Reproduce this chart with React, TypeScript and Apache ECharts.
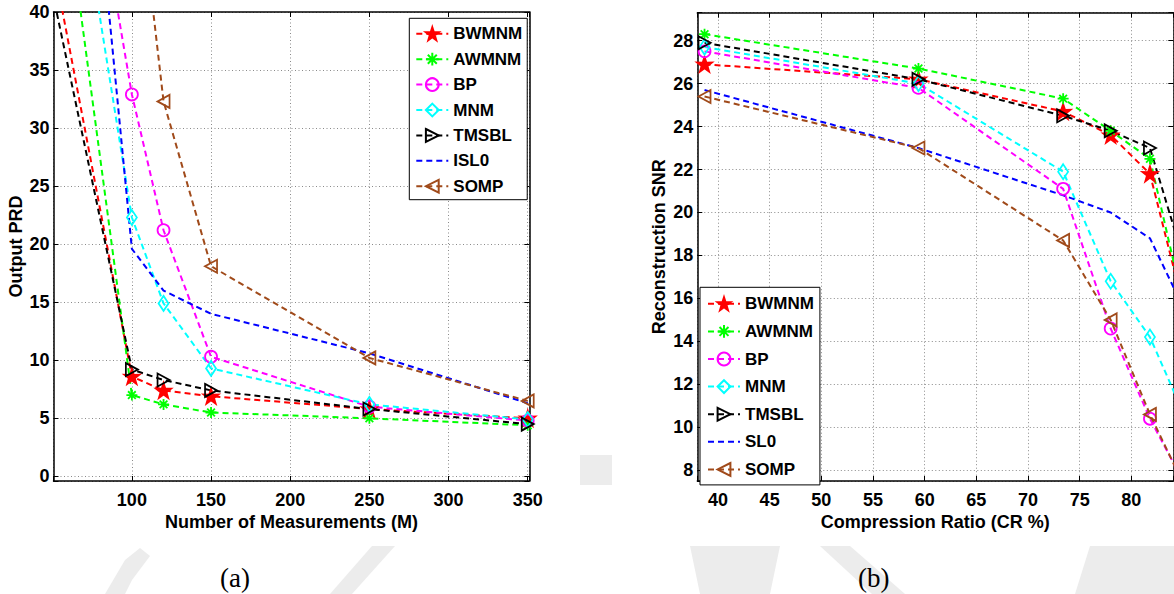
import { useEffect, useRef } from "react";
import * as echarts from "echarts";

// ---- Panel (a): output PRD against number of measurements ----
const measurements = [50, 100, 120, 150, 250, 350];
const prdBWMNM = [44.5, 8.6, 7.4, 6.9, 5.8, 5.0];
const prdAWMNM = [58, 7.0, 6.2, 5.5, 5.0, 4.4];
const prdBP = [73, 32.9, 21.2, 10.3, 6.0, 4.8];
const prdMNM = [65, 22.3, 14.9, 9.3, 6.2, 4.9];
const prdTMSBL = [41.6, 9.2, 8.3, 7.4, 5.8, 4.5];
const prdISL0 = [90, 19.6, 16.0, 14.0, 10.6, 6.3];
const prdSOMP = [null, 56, 32.3, 18.1, 10.2, 6.5];

// ---- Panel (b): reconstruction SNR against compression ratio ----
const ratios = [38.7, 59.4, 73.4, 78.0, 81.8, 86];
const snrBWMNM = [26.9, 26.2, 24.7, 23.6, 21.8, 13.8];
const snrAWMNM = [28.3, 26.7, 25.3, 23.8, 22.5, 13.7];
const snrBP = [27.5, 25.8, 21.1, 14.6, 10.4, 6.6];
const snrMNM = [27.7, 26.0, 21.9, 16.8, 14.2, 9.6];
const snrTMSBL = [27.9, 26.2, 24.5, 23.8, 23.0, 16.3];
const snrSL0 = [25.7, 23.0, 20.8, 20.0, 18.8, 14.6];
const snrSOMP = [25.4, 23.0, 18.7, 15.0, 10.6, 6.4];

const legendA = ["BWMNM", "AWMNM", "BP", "MNM", "TMSBL", "ISL0", "SOMP"];
const legendB = ["BWMNM", "AWMNM", "BP", "MNM", "TMSBL", "SL0", "SOMP"];

const FONT = "'Liberation Sans', Arial, Helvetica, sans-serif";
const SERIF = "'Liberation Serif', 'Times New Roman', serif";

const STAR =
  "path://M50,0 L61.8,35.1 L97.6,34.5 L68.8,55.9 L79.4,90.5 L50,69.5 L20.6,90.5 L31.2,55.9 L2.4,34.5 L38.2,35.1 Z";
const ASTERISK = "path://M5,0 L5,10 M0,5 L10,5 M1.5,1.5 L8.5,8.5 M1.5,8.5 L8.5,1.5";
const TRI_RIGHT = "path://M0,0 L10,5 L0,10 Z";
const TRI_LEFT = "path://M10,0 L0,5 L10,10 Z";

type MarkStyle = {
  color: string;
  symbol: string;
  size: number | number[];
  filled: boolean;
};

const MARKS: Record<string, MarkStyle> = {
  BWMNM: { color: "#ff0000", symbol: STAR, size: 15, filled: true },
  AWMNM: { color: "#00ff00", symbol: ASTERISK, size: 11, filled: false },
  BP: { color: "#ff00ff", symbol: "circle", size: 12, filled: false },
  MNM: { color: "#00ffff", symbol: "diamond", size: [10, 15], filled: false },
  TMSBL: { color: "#000000", symbol: TRI_RIGHT, size: [12, 13], filled: false },
  ISL0: { color: "#0000ff", symbol: "none", size: 0, filled: false },
  SL0: { color: "#0000ff", symbol: "none", size: 0, filled: false },
  SOMP: { color: "#a04a1a", symbol: TRI_LEFT, size: [12, 13], filled: false },
};

function lineSeries(name: string, xs: number[], ys: (number | null)[], panel: number) {
  const m = MARKS[name];
  const noMarker = m.symbol === "none";
  const data: number[][] = [];
  xs.forEach((x, i) => {
    const y = ys[i];
    if (y !== null) data.push([x, y]);
  });
  return {
    type: "line",
    name,
    xAxisIndex: panel * 2,
    yAxisIndex: panel * 2,
    data,
    symbol: m.symbol,
    symbolSize: m.size,
    showSymbol: !noMarker,
    clip: true,
    silent: true,
    emphasis: { disabled: true },
    lineStyle: { color: m.color, width: 2, type: [6, 4] },
    itemStyle: {
      color: m.filled ? m.color : "rgba(0,0,0,0)",
      borderColor: noMarker ? "rgba(0,0,0,0)" : m.color,
      borderWidth: noMarker ? 0 : 1.8,
    },
  };
}

const tickFont = { fontFamily: FONT, fontWeight: "bold" as const, fontSize: 18, color: "#000" };

function axisPair(
  dim: "x" | "y",
  grid: number,
  min: number,
  max: number,
  splitNumber: number,
  step: number,
  name: string,
  nameGap: number
) {
  const frame = { show: true, onZero: false, lineStyle: { color: "#000", width: 1.5 } };
  const tick = { show: true, inside: true, length: 5, lineStyle: { color: "#000", width: 1 } };
  const main = {
    type: "value",
    gridIndex: grid,
    position: dim === "x" ? "bottom" : "left",
    min,
    max,
    splitNumber,
    axisLine: frame,
    axisTick: tick,
    axisLabel: {
      ...tickFont,
      margin: dim === "x" ? 10 : 4,
      formatter: (v: number) => (Math.abs(v / step - Math.round(v / step)) < 1e-6 ? String(Math.round(v)) : ""),
    },
    splitLine: { show: true, lineStyle: { type: [1, 2.5], color: "#8a8a8a", width: 1 } },
    name,
    nameLocation: "middle",
    nameGap,
    nameMoveOverlap: false,
    nameTextStyle: { ...tickFont },
  };
  const mirror = {
    type: "value",
    gridIndex: grid,
    position: dim === "x" ? "top" : "right",
    min,
    max,
    splitNumber,
    axisLine: frame,
    axisTick: tick,
    axisLabel: { show: false },
    splitLine: { show: false },
  };
  return [main, mirror];
}

const legendText = { fontFamily: FONT, fontWeight: "bold" as const, fontSize: 17, color: "#000", lineHeight: 16 };

// faint watermark shapes behind the captions
const WATERMARK = "#ececec";
const watermark = [
  { type: "polygon", shape: { points: [[105, 594], [125, 560], [140, 548], [150, 556], [132, 580], [125, 594]] } },
  { type: "polygon", shape: { points: [[330, 594], [372, 546], [395, 546], [352, 594]] } },
  { type: "polygon", shape: { points: [[690, 546], [780, 546], [770, 594], [700, 594]] } },
  { type: "polygon", shape: { points: [[820, 546], [850, 546], [905, 594], [872, 594]] } },
  { type: "polygon", shape: { points: [[1090, 546], [1174, 546], [1174, 594], [1075, 594]] } },
  { type: "polygon", shape: { points: [[580, 455], [612, 455], [612, 485], [580, 485]] } },
].map((s) => ({ ...s, z: -10, silent: true, style: { fill: WATERMARK } }));

const option = {
  animation: false,
  backgroundColor: "#ffffff",
  textStyle: { fontFamily: FONT },
  grid: [
    { left: 53.5, top: 12, width: 475.8, height: 469, outerBoundsMode: "none", containLabel: false },
    { left: 697.3, top: 12.7, width: 476, height: 468.3, outerBoundsMode: "none", containLabel: false },
  ],
  xAxis: [
    ...axisPair("x", 0, 50.5, 351, 6, 50, "Number of Measurements (M)", 32),
    ...axisPair("x", 1, 38, 84.06, 9, 5, "Compression Ratio (CR %)", 32),
  ],
  yAxis: [
    ...axisPair("y", 0, -0.4, 40, 8, 5, "Output PRD", 29),
    ...axisPair("y", 1, 7.5, 29.3, 11, 2, "Reconstruction SNR", 29),
  ],
  legend: [
    {
      data: legendA,
      orient: "vertical",
      left: 409.3,
      top: 18.3,
      itemWidth: 32,
      itemHeight: 16,
      itemGap: 8.4,
      padding: [7, 5, 5, 6],
      borderColor: "#000",
      borderWidth: 1,
      backgroundColor: "#fff",
      selectedMode: false,
      textStyle: legendText,
    },
    {
      data: legendB,
      orient: "vertical",
      left: 700,
      top: 287.3,
      itemWidth: 32,
      itemHeight: 16,
      itemGap: 10.6,
      padding: [8, 6, 7, 7],
      borderColor: "#000",
      borderWidth: 1,
      backgroundColor: "#fff",
      selectedMode: false,
      textStyle: legendText,
    },
  ],
  series: [
    lineSeries("BWMNM", measurements, prdBWMNM, 0),
    lineSeries("AWMNM", measurements, prdAWMNM, 0),
    lineSeries("BP", measurements, prdBP, 0),
    lineSeries("MNM", measurements, prdMNM, 0),
    lineSeries("TMSBL", measurements, prdTMSBL, 0),
    lineSeries("ISL0", measurements, prdISL0, 0),
    lineSeries("SOMP", measurements, prdSOMP, 0),
    lineSeries("BWMNM", ratios, snrBWMNM, 1),
    lineSeries("AWMNM", ratios, snrAWMNM, 1),
    lineSeries("BP", ratios, snrBP, 1),
    lineSeries("MNM", ratios, snrMNM, 1),
    lineSeries("TMSBL", ratios, snrTMSBL, 1),
    lineSeries("SL0", ratios, snrSL0, 1),
    lineSeries("SOMP", ratios, snrSOMP, 1),
  ],
  graphic: [
    ...watermark,
    {
      type: "text",
      left: 220,
      top: 564,
      style: { text: "(a)", fontFamily: SERIF, fontSize: 27, fill: "#000" },
    },
    {
      type: "text",
      left: 858,
      top: 564,
      style: { text: "(b)", fontFamily: SERIF, fontSize: 27, fill: "#000" },
    },
  ],
};

export default function App() {
  const ref = useRef<HTMLDivElement>(null);
  useEffect(() => {
    if (!ref.current) return;
    const chart = echarts.init(ref.current, null, { renderer: "svg" });
    chart.setOption(option as any);
    return () => chart.dispose();
  }, []);
  return (
    <div
      ref={ref}
      style={{ position: "absolute", left: 0, top: 0, width: 1174, height: 594, background: "#fff" }}
    />
  );
}
